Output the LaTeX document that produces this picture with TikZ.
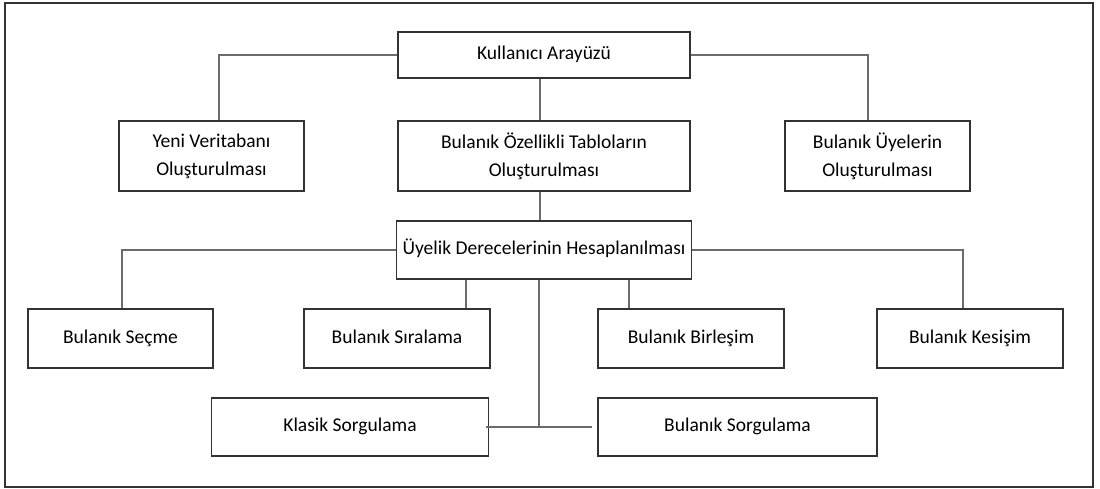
\documentclass[tikz,border=0pt]{standalone}
\usepackage{fontspec}
\setmainfont{Carlito}
\usetikzlibrary{positioning}

\begin{document}
\begin{tikzpicture}[x=1pt, y=-1pt,
        box/.style={rectangle, draw=black!80, line width=1.5pt, fill=white, inner sep=0pt, align=center,
                    font=\fontsize{19.5}{28}\selectfont},
        tek/.style={box, text height=13pt, text depth=4pt},
        link/.style={draw=black!58, line width=2pt}]
    \useasboundingbox (0,0) rectangle (1100,488);
    \draw[draw=black!80, line width=1.3pt] (5,3) rectangle (1093,487);

    % top levels
    \node[tek, minimum width=292pt, minimum height=46pt] at (544, 55) (arayuz) {Kullanıcı Arayüzü};
    \node[box, minimum width=185pt, minimum height=70pt] at (211.5, 156) (yeni) {Yeni Veritabanı\\Oluşturulması};
    \node[box, minimum width=292pt, minimum height=70pt] at (544, 156) (tablo) {Bulanık Özellikli Tabloların\\Oluşturulması};
    \node[box, minimum width=185pt, minimum height=70pt] at (877.5, 156) (uyeler) {Bulanık Üyelerin\\Oluşturulması};
    \node[tek, minimum width=295pt, minimum height=58pt] at (544, 250) (derece) {Üyelik Derecelerinin Hesaplanılması};

    % operations
    \node[tek, minimum width=185pt, minimum height=59pt] at (120.5, 338.5) (secme) {Bulanık Seçme};
    \node[tek, minimum width=186pt, minimum height=59pt] at (397, 338.5) (siralama) {Bulanık Sıralama};
    \node[tek, minimum width=186pt, minimum height=59pt] at (691, 338.5) (birlesim) {Bulanık Birleşim};
    \node[tek, minimum width=186pt, minimum height=59pt] at (970, 338.5) (kesisim) {Bulanık Kesişim};
    \node[tek, minimum width=277pt, minimum height=58pt] at (350, 427) (klasik) {Klasik Sorgulama};
    \node[tek, minimum width=279pt, minimum height=58pt] at (737.5, 427) (sorgu) {Bulanık Sorgulama};

    \draw[link] (arayuz.west) -| ([xshift=7.5pt]yeni.north);
    \draw[link] (arayuz.east) -| ([xshift=-9.5pt]uyeler.north);
    \draw[link] ([xshift=-4pt]arayuz.south) -- ([xshift=-4pt]tablo.north);
    \draw[link] ([xshift=-4pt]tablo.south) -- ([xshift=-4pt]derece.north);

    \draw[link] (derece.west) -| ([xshift=1.5pt]secme.north);
    \draw[link] (derece.east) -| ([xshift=-7pt]kesisim.north);
    \draw[link] ([xshift=-78pt]derece.south) -- (siralama.north -| {466,0});
    \draw[link] ([xshift=85pt]derece.south) -- (birlesim.north -| {629,0});
    \draw[link] ([xshift=-5pt]derece.south) -- ([xshift=-5pt]derece.south |- klasik.east) coordinate (kavsak);
    \draw[link] ([xshift=-3pt]klasik.east) -- (kavsak) -- ([xshift=-5pt]sorgu.west);
\end{tikzpicture}
\end{document}
